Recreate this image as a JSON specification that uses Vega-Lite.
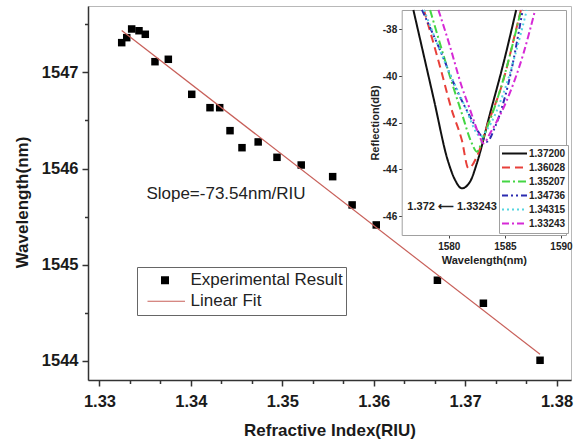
{
  "$schema": "https://vega.github.io/schema/vega-lite/v6.json",
  "width": 483,
  "height": 374,
  "autosize": {"type": "none"},
  "padding": {"left": 88, "top": 6, "right": 9, "bottom": 61},
  "background": "white",
  "config": {
    "view": {"stroke": "#b8b8b8", "strokeWidth": 1},
    "font": "Liberation Sans",
    "axis": {"grid": false, "labelFont": "Liberation Sans", "titleFont": "Liberation Sans"},
    "legend": {"labelFont": "Liberation Sans"},
    "text": {"font": "Liberation Sans"}
  },
  "datasets": {
    "main": [
      {"ri": 1.33243, "wl": 1547.309, "series": "Experimental Result"},
      {"ri": 1.33298, "wl": 1547.361, "series": "Experimental Result"},
      {"ri": 1.33352, "wl": 1547.451, "series": "Experimental Result"},
      {"ri": 1.33432, "wl": 1547.433, "series": "Experimental Result"},
      {"ri": 1.33501, "wl": 1547.396, "series": "Experimental Result"},
      {"ri": 1.33607, "wl": 1547.111, "series": "Experimental Result"},
      {"ri": 1.33753, "wl": 1547.136, "series": "Experimental Result"},
      {"ri": 1.34009, "wl": 1546.772, "series": "Experimental Result"},
      {"ri": 1.34209, "wl": 1546.633, "series": "Experimental Result"},
      {"ri": 1.34315, "wl": 1546.633, "series": "Experimental Result"},
      {"ri": 1.34428, "wl": 1546.394, "series": "Experimental Result"},
      {"ri": 1.34559, "wl": 1546.217, "series": "Experimental Result"},
      {"ri": 1.34736, "wl": 1546.277, "series": "Experimental Result"},
      {"ri": 1.34942, "wl": 1546.117, "series": "Experimental Result"},
      {"ri": 1.35207, "wl": 1546.037, "series": "Experimental Result"},
      {"ri": 1.35551, "wl": 1545.916, "series": "Experimental Result"},
      {"ri": 1.35764, "wl": 1545.622, "series": "Experimental Result"},
      {"ri": 1.36028, "wl": 1545.414, "series": "Experimental Result"},
      {"ri": 1.36697, "wl": 1544.839, "series": "Experimental Result"},
      {"ri": 1.372, "wl": 1544.6, "series": "Experimental Result"},
      {"ri": 1.3782, "wl": 1544.007, "series": "Experimental Result"}
    ],
    "fit": [
      {"ri": 1.33243, "wl": 1547.436, "series": "Linear Fit"},
      {"ri": 1.3782, "wl": 1544.07, "series": "Linear Fit"}
    ],
    "curves": [
      {"ri": "1.37200", "wl": 1576.84, "db": -37.17},
      {"ri": "1.37200", "wl": 1578.68, "db": -41.03},
      {"ri": "1.37200", "wl": 1579.9, "db": -43.6},
      {"ri": "1.37200", "wl": 1580.56, "db": -44.45},
      {"ri": "1.37200", "wl": 1581.16, "db": -44.81},
      {"ri": "1.37200", "wl": 1581.9, "db": -44.52},
      {"ri": "1.37200", "wl": 1582.5, "db": -43.74},
      {"ri": "1.37200", "wl": 1583.68, "db": -41.6},
      {"ri": "1.37200", "wl": 1584.87, "db": -39.46},
      {"ri": "1.37200", "wl": 1586.01, "db": -37.17},
      {"ri": "1.36028", "wl": 1577.78, "db": -37.17},
      {"ri": "1.36028", "wl": 1579.22, "db": -39.6},
      {"ri": "1.36028", "wl": 1580.26, "db": -41.45},
      {"ri": "1.36028", "wl": 1581.16, "db": -42.74},
      {"ri": "1.36028", "wl": 1581.75, "db": -43.95},
      {"ri": "1.36028", "wl": 1582.5, "db": -43.45},
      {"ri": "1.36028", "wl": 1583.39, "db": -42.17},
      {"ri": "1.36028", "wl": 1584.87, "db": -40.17},
      {"ri": "1.36028", "wl": 1585.92, "db": -38.17},
      {"ri": "1.36028", "wl": 1586.43, "db": -37.17},
      {"ri": "1.35207", "wl": 1578.33, "db": -37.17},
      {"ri": "1.35207", "wl": 1580.11, "db": -40.03},
      {"ri": "1.35207", "wl": 1581.16, "db": -41.6},
      {"ri": "1.35207", "wl": 1582.05, "db": -42.88},
      {"ri": "1.35207", "wl": 1582.5, "db": -43.24},
      {"ri": "1.35207", "wl": 1583.09, "db": -42.6},
      {"ri": "1.35207", "wl": 1584.58, "db": -40.6},
      {"ri": "1.35207", "wl": 1586.45, "db": -37.17},
      {"ri": "1.34736", "wl": 1577.61, "db": -37.17},
      {"ri": "1.34736", "wl": 1579.22, "db": -38.89},
      {"ri": "1.34736", "wl": 1580.71, "db": -40.6},
      {"ri": "1.34736", "wl": 1581.9, "db": -41.74},
      {"ri": "1.34736", "wl": 1582.94, "db": -42.6},
      {"ri": "1.34736", "wl": 1583.39, "db": -42.81},
      {"ri": "1.34736", "wl": 1584.13, "db": -42.17},
      {"ri": "1.34736", "wl": 1585.32, "db": -40.31},
      {"ri": "1.34736", "wl": 1586.59, "db": -37.17},
      {"ri": "1.34315", "wl": 1577.79, "db": -37.17},
      {"ri": "1.34315", "wl": 1579.82, "db": -39.6},
      {"ri": "1.34315", "wl": 1581.45, "db": -41.31},
      {"ri": "1.34315", "wl": 1582.5, "db": -42.45},
      {"ri": "1.34315", "wl": 1582.79, "db": -42.6},
      {"ri": "1.34315", "wl": 1583.39, "db": -42.31},
      {"ri": "1.34315", "wl": 1584.87, "db": -40.74},
      {"ri": "1.34315", "wl": 1586.96, "db": -37.17},
      {"ri": "1.33243", "wl": 1579.07, "db": -37.17},
      {"ri": "1.33243", "wl": 1580.11, "db": -38.74},
      {"ri": "1.33243", "wl": 1581.16, "db": -40.46},
      {"ri": "1.33243", "wl": 1581.9, "db": -41.45},
      {"ri": "1.33243", "wl": 1582.64, "db": -42.45},
      {"ri": "1.33243", "wl": 1583.09, "db": -42.88},
      {"ri": "1.33243", "wl": 1583.68, "db": -42.45},
      {"ri": "1.33243", "wl": 1585.18, "db": -41.03},
      {"ri": "1.33243", "wl": 1586.66, "db": -39.03},
      {"ri": "1.33243", "wl": 1587.7, "db": -37.17}
    ]
  },
  "layer": [
    {
      "layer": [
        {
          "data": {"name": "main"},
          "mark": {"type": "point", "size": 352, "opacity": 1, "filled": true},
          "encoding": {
            "x": {
              "field": "ri", "type": "quantitative",
              "scale": {"domain": [1.328742, 1.381586], "nice": false, "zero": false},
              "axis": {
                "orient": "bottom", "values": [1.33, 1.34, 1.35, 1.36, 1.37, 1.38], "format": ".2f",
                "title": "Refractive Index(RIU)", "titleFontSize": 17, "titleFontWeight": "bold",
                "titleBaseline": "middle", "titleY": 50, "titleColor": "#1a1a1a",
                "labelFontSize": 16.5, "labelFontWeight": "bold", "labelPadding": 7, "labelColor": "#1a1a1a",
                "tickSize": 6, "tickColor": "#333", "tickWidth": 1.5, "domainColor": "#333", "domainWidth": 1.5
              }
            },
            "y": {
              "field": "wl", "type": "quantitative",
              "scale": {"domain": [1543.802, 1547.69], "nice": false, "zero": false},
              "axis": {
                "orient": "left", "values": [1544, 1545, 1546, 1547], "format": "d",
                "title": "Wavelength(nm)", "titleFontSize": 17, "titleFontWeight": "bold",
                "titleBaseline": "middle", "titleX": -66, "titleY": 196, "titleColor": "#1a1a1a",
                "labelFontSize": 16.5, "labelFontWeight": "bold", "labelPadding": 4, "labelColor": "#1a1a1a",
                "tickSize": 6, "tickColor": "#333", "tickWidth": 1.5, "domainColor": "#333", "domainWidth": 1.5
              }
            },
            "color": {
              "field": "series", "type": "nominal",
              "scale": {"domain": ["Experimental Result", "Linear Fit"], "range": ["#000000", "#c8605a"]},
              "legend": {
                "orient": "none", "legendX": 49, "legendY": 261, "title": null,
                "symbolSize": 400, "clipHeight": 20.5, "rowPadding": 0, "padding": 3, "symbolOffset": 14, "labelOffset": 14.5,
                "labelFontSize": 17, "labelColor": "#222", "strokeColor": "#666", "fillColor": "white", "symbolOpacity": 1
              }
            },
            "shape": {
              "field": "series", "type": "nominal",
              "scale": {"domain": ["Experimental Result", "Linear Fit"], "range": ["M-0.4,-0.4H0.4V0.4H-0.4Z", "M-1.75,-0.06H2V0.06H-1.75Z"]},
              "legend": {
                "orient": "none", "legendX": 49, "legendY": 261, "title": null,
                "symbolSize": 400, "clipHeight": 20.5, "rowPadding": 0, "padding": 3, "symbolOffset": 14, "labelOffset": 14.5,
                "labelFontSize": 17, "labelColor": "#222", "strokeColor": "#666", "fillColor": "white", "symbolOpacity": 1
              }
            }
          }
        },
        {
          "data": {"name": "fit"},
          "mark": {"type": "line", "strokeWidth": 1.2, "color": "#c8605a"},
          "encoding": {
            "x": {
              "field": "ri", "type": "quantitative",
              "axis": {
                "orient": "bottom",
                "values": [1.33333, 1.33667, 1.34333, 1.34667, 1.35333, 1.35667, 1.36333, 1.36667, 1.37333, 1.37667],
                "labels": false, "domain": false, "title": null,
                "tickSize": 3.5, "tickColor": "#333", "tickWidth": 1.5
              }
            },
            "y": {
              "field": "wl", "type": "quantitative",
              "axis": {
                "orient": "left", "values": [1544.5, 1545.5, 1546.5, 1547.5],
                "labels": false, "domain": false, "title": null,
                "tickSize": 3.5, "tickColor": "#333", "tickWidth": 1.5
              }
            }
          }
        },
        {
          "data": {"values": [{}]},
          "mark": {"type": "text", "text": "Slope=-73.54nm/RIU", "fontSize": 17, "color": "#222", "align": "center", "baseline": "middle"},
          "encoding": {
            "x": {"datum": 1.34384, "type": "quantitative", "axis": null},
            "y": {"datum": 1545.736, "type": "quantitative", "axis": null}
          }
        }
      ],
      "resolve": {"axis": {"x": "independent", "y": "independent"}}
    },
    {
      "layer": [
        {
          "data": {"name": "curves"},
          "mark": {"type": "line", "strokeWidth": 2, "interpolate": "monotone"},
          "encoding": {
            "x": {
              "field": "wl", "type": "quantitative",
              "scale": {"domain": [1575.8, 1590.45], "range": [313.7, 478], "nice": false, "zero": false},
              "axis": {
                "orient": "bottom", "offset": -145, "values": [1580, 1585, 1590], "format": "d",
                "title": "Wavelength(nm)", "titleFontSize": 11, "titleFontWeight": "bold", "titlePadding": 3, "titleColor": "#222",
                "labelFontSize": 10, "labelFontWeight": "bold", "labelPadding": 3, "labelColor": "#222",
                "tickSize": 3, "tickColor": "#444", "domainColor": "#a0a0a0"
              }
            },
            "y": {
              "field": "db", "type": "quantitative",
              "scale": {"domain": [-46.806, -37.174], "range": [229, 4], "nice": false, "zero": false},
              "axis": {
                "orient": "left", "offset": -313.7, "values": [-46, -44, -42, -40, -38],
                "labelExpr": "'' + datum.value",
                "title": "Reflection(dB)", "titleFontSize": 11, "titleFontWeight": "bold", "titlePadding": 2, "titleColor": "#222",
                "labelFontSize": 10, "labelFontWeight": "bold", "labelPadding": 2, "labelColor": "#222",
                "tickSize": 3, "tickColor": "#444", "domainColor": "#a0a0a0"
              }
            },
            "color": {
              "field": "ri", "type": "nominal",
              "scale": {
                "domain": ["1.37200", "1.36028", "1.35207", "1.34736", "1.34315", "1.33243"],
                "range": ["#111111", "#e8403a", "#44d644", "#2b2bb0", "#55d5e0", "#d62ad6"]
              },
              "legend": {
                "orient": "none", "legendX": 411, "legendY": 139, "title": null,
                "symbolType": "stroke", "symbolSize": 625, "symbolStrokeWidth": 2, "clipHeight": 13.2, "rowPadding": 0,
                "padding": 2, "labelOffset": 1, "labelFontSize": 10, "labelFontWeight": "bold", "labelColor": "#222",
                "strokeColor": "#a0a0a0", "fillColor": "white"
              }
            },
            "strokeDash": {
              "field": "ri", "type": "nominal",
              "scale": {
                "domain": ["1.37200", "1.36028", "1.35207", "1.34736", "1.34315", "1.33243"],
                "range": [[1, 0], [8, 5], [8, 3, 2, 3], [6, 3, 2, 3, 2, 3], [2, 3], [7, 3, 2, 3]]
              },
              "legend": {
                "orient": "none", "legendX": 411, "legendY": 139, "title": null,
                "symbolType": "stroke", "symbolSize": 625, "symbolStrokeWidth": 2, "clipHeight": 13.2, "rowPadding": 0,
                "padding": 2, "labelOffset": 1, "labelFontSize": 10, "labelFontWeight": "bold", "labelColor": "#222",
                "strokeColor": "#a0a0a0", "fillColor": "white"
              }
            }
          }
        },
        {
          "data": {"values": [{}]},
          "mark": {"type": "text", "text": "1.372 ⟵ 1.33243", "fontSize": 11, "fontWeight": "bold", "color": "#222", "align": "center", "baseline": "middle"},
          "encoding": {
            "x": {
              "datum": 1580.29, "type": "quantitative",
              "axis": {"orient": "top", "offset": -4, "ticks": false, "labels": false, "title": null, "domainColor": "#a0a0a0"}
            },
            "y": {
              "datum": -45.59, "type": "quantitative",
              "axis": {"orient": "right", "offset": -5, "ticks": false, "labels": false, "title": null, "domainColor": "#a0a0a0"}
            }
          }
        }
      ],
      "resolve": {"axis": {"x": "independent", "y": "independent"}}
    }
  ],
  "resolve": {"scale": {"x": "independent", "y": "independent", "color": "independent", "shape": "independent", "strokeDash": "independent"}}
}
